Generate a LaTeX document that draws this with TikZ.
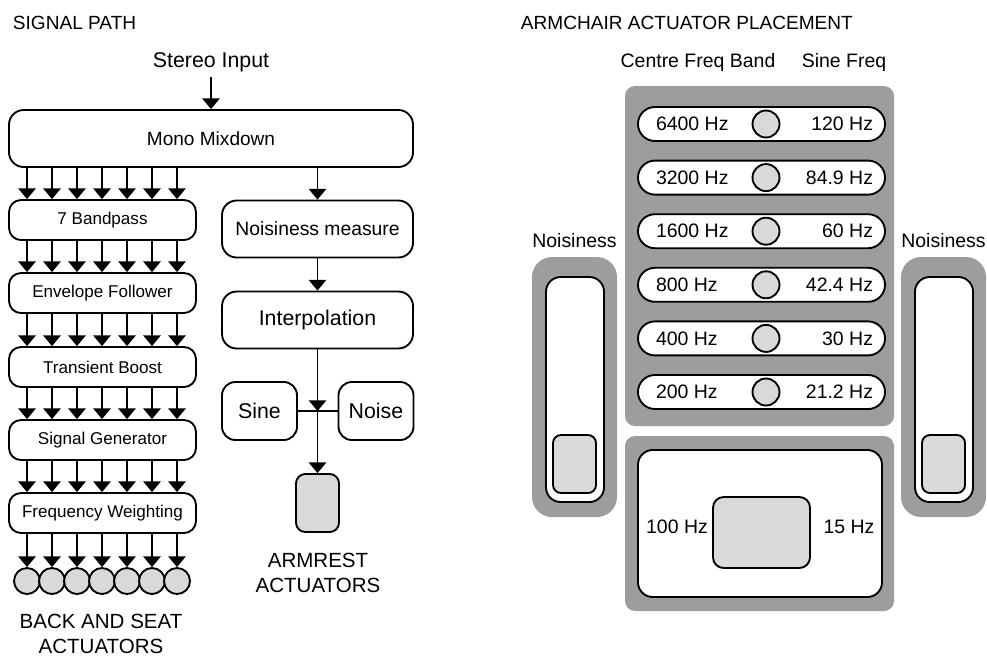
\documentclass[tikz,border=0pt]{standalone}
\usepackage{fontspec}
\setmainfont{Liberation Sans}
\usetikzlibrary{arrows.meta}
\definecolor{panelgray}{HTML}{9D9D9D}
\definecolor{actgray}{HTML}{D9D9D9}

\begin{document}
\begin{tikzpicture}[x=0.75pt,y=-0.75pt,line width=1.4pt,
arr/.style={-{Triangle[width=13pt,length=8pt]}},
mixblock/.style={draw,rectangle,fill=white,rounded corners=11pt,inner sep=0pt,minimum width=404*0.75pt,minimum height=57*0.75pt,font=\fontsize{14.3}{17}\selectfont},
bandblock/.style={draw,rectangle,fill=white,rounded corners=9pt,inner sep=0pt,minimum width=187*0.75pt,minimum height=40*0.75pt,font=\fontsize{12.8}{15}\selectfont},
measblock/.style={draw,rectangle,fill=white,rounded corners=11pt,inner sep=0pt,minimum width=191*0.75pt,minimum height=57*0.75pt},
srcblock/.style={draw,rectangle,fill=white,rounded corners=10pt,inner sep=0pt,minimum width=75*0.75pt,minimum height=58*0.75pt,font=\fontsize{16}{19}\selectfont},
armblock/.style={draw,rectangle,fill=actgray,rounded corners=7pt,inner sep=0pt,minimum width=43*0.75pt,minimum height=58*0.75pt},
actuator/.style={draw,circle,fill=actgray,inner sep=0pt,minimum size=26*0.75pt},
pill/.style={draw,rectangle,fill=white,rounded corners=12.7pt,inner sep=0pt,minimum width=247*0.75pt,minimum height=34*0.75pt},
knob/.style={draw,circle,fill=actgray,inner sep=0pt,minimum size=27*0.75pt},
title/.style={font=\fontsize{14.3}{17}\selectfont,inner sep=0pt},
label/.style={font=\fontsize{15.4}{19}\selectfont,align=center,inner sep=0pt},
freq/.style={font=\fontsize{14.6}{17}\selectfont,inner sep=0pt}]

\useasboundingbox (0,0) rectangle (987,658);

% signal path
\node[title,anchor=base west] (sigtitle) at (12,29) {SIGNAL PATH};
\node[title,anchor=base,font=\fontsize{16}{19}\selectfont] (stereo) at (211,67) {Stereo Input};
\draw (211,138.5) node[mixblock] (mix) {Mono Mixdown};
\draw (102.5,220) node[bandblock] (band) {7 Bandpass};
\draw (102.5,293) node[bandblock] (env) {Envelope Follower};
\draw (102.5,367) node[bandblock] (trans) {Transient Boost};
\draw (102.5,440) node[bandblock] (gen) {Signal Generator};
\draw (102.5,513) node[bandblock] (weight) {Frequency Weighting};

\draw[arr] (211,77) -- (mix.north);

\foreach \i in {0,...,6} {
  \coordinate (col\i) at ({27+25*\i},0);
  \node[actuator] (act\i) at ({27+25*\i},581) {};
  \draw[arr] (weight.south -| col\i) -- (act\i.north);
}
\foreach \a/\b in {mix/band,band/env,env/trans,trans/gen,gen/weight}
  \foreach \i in {0,...,6}
    \draw[arr] (\a.south -| col\i) -- (\b.north -| col\i);

\node[label] (backseat) at (101,634) {BACK AND SEAT\\ACTUATORS};

\draw (317.5,229) node[measblock,font=\fontsize{14.5}{17}\selectfont] (noisy) {Noisiness measure};
\draw (317.5,320) node[measblock,font=\fontsize{16}{19}\selectfont] (interp) {Interpolation};
\draw (259.5,411) node[srcblock] (sine) {Sine};
\draw (376,411) node[srcblock] (noise) {Noise};
\draw (317.5,503) node[armblock] (arm) {};

\draw[arr] (mix.south -| noisy.north) -- (noisy.north);
\draw[arr] (noisy.south) -- (interp.north);
\draw (sine.east) -- (noise.west);
\draw[arr] (interp.south) -- (interp.south |- sine.east) coordinate (j);
\draw[arr] (j) -- (arm.north);

\node[label] (armrest) at (318,573) {ARMREST\\ACTUATORS};

% armchair placement
\node[title,anchor=base west] (chairtitle) at (520,29) {ARMCHAIR ACTUATOR PLACEMENT};
\node[freq,anchor=base] (bandhead) at (698,67) {Centre Freq Band};
\node[freq,anchor=base] (sinehead) at (844,67) {Sine Freq};

\fill[panelgray,rounded corners=7.5pt] (625,86) rectangle (894,426);
\foreach \lo/\hi [count=\k from 0] in {6400/120,3200/84.9,1600/60,800/42.4,400/30,200/21.2} {
  \node[pill] (row\k) at (761.5,{124+53.6*\k}) {};
  \node[knob] (knob\k) at (766,{124+53.6*\k}) {};
  \node[freq,anchor=west] (lo\k) at ([xshift=13.5pt]row\k.west) {\lo\ Hz};
  \node[freq,anchor=east] (hi\k) at ([xshift=-9pt]row\k.east) {\hi\ Hz};
}

\fill[panelgray,rounded corners=7.5pt] (625,436) rectangle (894,611);
\draw[fill=white,rounded corners=11pt] (638,450) rectangle (882,597);
\draw[fill=actgray,rounded corners=8pt] (713,497) rectangle (810,568);
\node[freq] (seatlo) at (677,527) {100 Hz};
\node[freq] (seathi) at (849,527) {15 Hz};

\foreach \x/\n in {532/left,901/right} {
  \fill[panelgray,rounded corners=15pt] (\x,257) rectangle ++(85,260);
  \draw[fill=white,rounded corners=11pt] ({\x+14},277) rectangle ++(58,225);
  \draw[fill=actgray,rounded corners=6pt] ({\x+21},435) rectangle ++(43,58);
  \node[freq] (noisiness\n) at ({\x+42.5},241) {Noisiness};
}
\end{tikzpicture}
\end{document}
